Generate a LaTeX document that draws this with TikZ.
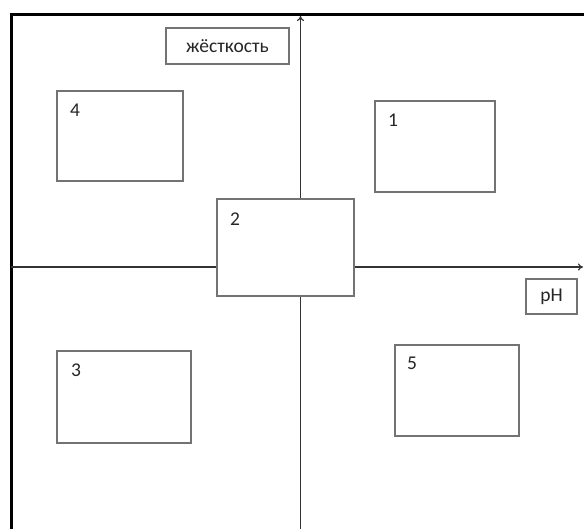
\documentclass[tikz,border=0pt]{standalone}
\usepackage{fontspec}
\setmainfont{Carlito}
\usetikzlibrary{arrows.meta}
\begin{document}
\begin{tikzpicture}[x=1pt,y=-1pt,
  box/.style={draw=black!55, line width=1.2pt, fill=white},
  txt/.style={font=\fontsize{19.5}{22}\selectfont, text=black!85},
  lbl/.style={txt, anchor=base west, inner sep=0pt},
  axis/.style={draw=black!80, line width=1.2pt, -{To[length=5pt,width=7pt]}}]
\useasboundingbox (0,0) rectangle (584,529);
% frame
\coordinate (fl) at (11,529);
\coordinate (ftl) at (11,14.5);
\coordinate (fr) at (584,14.5);
\draw[line width=3pt, line join=miter] (fl) -- (ftl) -- (fr);
% axes
\coordinate (vb) at (300.5,529);
\coordinate (vt) at (300.5,16);
\coordinate (hl) at (11,267);
\coordinate (hr) at (583,267);
\draw[axis] (vb) -- (vt);
\draw[axis] (hl) -- (hr);
% axis label boxes
\draw[box] (166,28) rectangle (289,64);
\node[txt] (hard) at (227.5,46) {жёсткость};
\draw[box] (526,279) rectangle (577,314);
\node[txt] (ph) at (551.5,296.5) {pH};
% numbered boxes
\draw[box] (57,91) rectangle (183,181);
\node[lbl] (n4) at (70,117) {4};
\draw[box] (375,101) rectangle (495,192);
\node[lbl] (n1) at (388,127) {1};
\draw[box] (217,199) rectangle (354,296);
\node[lbl] (n2) at (230,226) {2};
\draw[box] (57,351) rectangle (191,443);
\node[lbl] (n3) at (71,377) {3};
\draw[box] (395,345) rectangle (519,436);
\node[lbl] (n5) at (407,370) {5};
\end{tikzpicture}
\end{document}
